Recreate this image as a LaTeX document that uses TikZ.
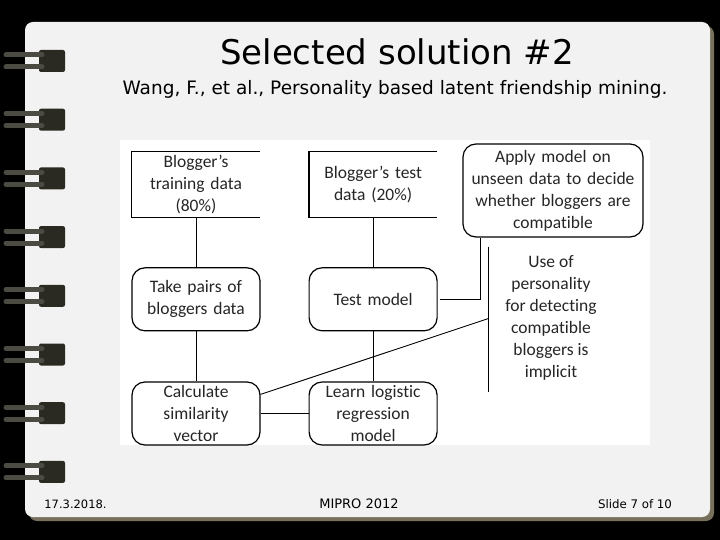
\documentclass[tikz,border=0pt]{standalone}
\usepackage{fontspec}
\setmainfont{Carlito}[Ligatures=NoCommon]
\newfontfamily\slidefont{DejaVu Sans}
\usepackage{tikz}
\usetikzlibrary{positioning}
\definecolor{papel}{HTML}{F2F2F2}
\definecolor{sombra}{HTML}{77705C}
\definecolor{anillo}{HTML}{2B2A22}
\tikzset{
    box_datos/.style={rectangle, text width=120pt, align=center, minimum width=128pt, minimum height=65pt, inner sep=2pt, font=\fontsize{17.5}{22}\selectfont, text=black!85},
    box_paso/.style={rectangle, rounded corners=13pt, draw=black, line width=1.2pt, text width=120pt, align=center, minimum width=128pt, minimum height=63pt, inner sep=2pt, font=\fontsize{17.5}{22}\selectfont, text=black!85},
    box_nota/.style={align=center, font=\fontsize{17.5}{22}\selectfont, text=black!85},
    slide_texto/.style={anchor=base, text=black},
    linea/.style={draw, line width=0.9pt}
}

\begin{document}
\begin{tikzpicture}[x=1pt, y=-1pt, node distance=50pt and 48.7pt]
    % slide background
    \useasboundingbox (0,0) rectangle (720,540);
    \fill[black] (0,0) rectangle (720,540);
    \fill[sombra, rounded corners=8pt] (29,26) rectangle (714,521);
    \fill[papel, rounded corners=8pt] (25,22) rectangle (710,517);
    \foreach \k in {0,...,7} {
        \pgfmathsetmacro{\yr}{61+58.7*\k}
        \fill[anillo, rounded corners=2pt] (39,\yr-11) rectangle (65,\yr+11);
        \draw[anillo!85, line width=5pt, line cap=round] (6,\yr-6) -- (42,\yr-6);
        \draw[anillo!85, line width=5pt, line cap=round] (6,\yr+6) -- (42,\yr+6);
    }
    \fill[white] (120,140) rectangle (650,445);

    \node[slide_texto, font=\slidefont\fontsize{34}{40}\selectfont] (titulo) at (397,65) {Selected solution \#2};
    \node[slide_texto, font=\slidefont\fontsize{18.5}{22}\selectfont] (fuente) at (395,95) {Wang, F., et al., Personality based latent friendship mining.};

    % diagram
    \node[box_datos] (train) at (196,184.5) {Blogger’s\\training data\\(80\%)};
    \node[box_datos, right=of train] (test) {Blogger’s test\\data (20\%)};
    \node[box_paso, below=of train] (pairs) {Take pairs of\\bloggers data};
    \node[box_paso, below=of pairs] (calc) {Calculate\\similarity\\vector};
    \node[box_paso, below=of test] (tmodel) {Test model};
    \node[box_paso, below=of tmodel] (learn) {Learn logistic\\regression\\model};
    \node[box_paso, text width=174pt, minimum width=180pt, minimum height=93pt] (apply) at (553,190.5) {Apply model on\\unseen data to decide\\whether bloggers are\\compatible};
    \node[box_nota] (implicit) at (551,318) {Use of\\personality\\for detecting\\compatible\\bloggers is\\implicit};

    \coordinate (br_top) at (488.5,246.5);
    \coordinate (br_mid) at (488.5,318.5);
    \coordinate (br_bot) at (488.5,392);

    \foreach \n in {train,test}
        \draw[line width=1.2pt] (\n.north east) -| (\n.south west) -- (\n.south east);

    \draw[linea] (train) -- (pairs);
    \draw[linea] (pairs) -- (calc);
    \draw[linea] (test) -- (tmodel);
    \draw[linea] (tmodel) -- (learn);
    \draw[linea] (calc) -- (learn);
    \draw[linea] ([xshift=2pt]tmodel.east) -| ([xshift=18pt]apply.south west);
    \draw[linea] (br_top) -- (br_bot);
    \draw[linea] ([yshift=-13pt]calc.north east) -- (br_mid);

    % footer
    \node[slide_texto, font=\slidefont\fontsize{11.5}{14}\selectfont] (fecha) at (75.5,508) {17.3.2018.};
    \node[slide_texto, font=\slidefont\fontsize{13}{15}\selectfont] (mipro) at (359,508) {MIPRO 2012};
    \node[slide_texto, font=\slidefont\fontsize{11.8}{14}\selectfont] (diapo) at (635,508) {Slide 7 of 10};
\end{tikzpicture}
\end{document}
